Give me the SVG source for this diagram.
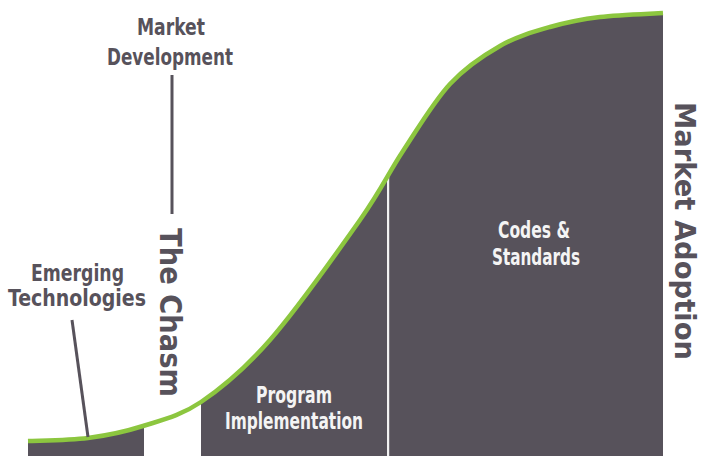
<svg xmlns="http://www.w3.org/2000/svg" width="702" height="456" viewBox="0 0 702 456">
  <style>
    .lbl { font-family: "Liberation Sans Narrow", "DejaVu Sans Condensed", "Liberation Sans", sans-serif; font-weight: bold; }
    .dark { fill: #57525b; }
    .light { fill: #f4f4f4; }
    .leader { stroke: #57525b; stroke-width: 3; fill: none; }
  </style>
  <defs>
    <path id="s-curve" d="M28,441 C38,440.5 68.8,440.5 88,438 C107.2,435.5 124.2,432 143,426 C161.8,420 179.8,416.3 201,402 C222.2,387.7 243.5,370.3 270,340 C296.5,309.7 337.8,251.5 360,220 C382.2,188.5 388,173.7 403,151 C418,128.3 433.8,101.5 450,84 C466.2,66.5 483.3,55.5 500,46 C516.7,36.5 533.3,31.8 550,27 C566.7,22.2 581.2,19.3 600,17 C618.8,14.7 652.5,13.7 663,13"/>
  </defs>

  <rect width="702" height="456" fill="#ffffff"/>

  <!-- area under the adoption curve, split into three stages -->
  <g id="adoption-area">
    <path d="M28,441 C38,440.5 68.8,440.5 88,438 C107.2,435.5 124.2,432 143,426 C161.8,420 179.8,416.3 201,402 C222.2,387.7 243.5,370.3 270,340 C296.5,309.7 337.8,251.5 360,220 C382.2,188.5 388,173.7 403,151 C418,128.3 433.8,101.5 450,84 C466.2,66.5 483.3,55.5 500,46 C516.7,36.5 533.3,31.8 550,27 C566.7,22.2 581.2,19.3 600,17 C618.8,14.7 652.5,13.7 663,13 L663,456 L28,456 Z" fill="#57525b"/>
    <!-- the chasm gap -->
    <rect x="144" y="380" width="57" height="76" fill="#ffffff"/>
    <!-- divider between program and codes stages -->
    <rect x="387" y="176" width="2.2" height="280" fill="#f2f2f2"/>
  </g>

  <!-- green adoption curve -->
  <g id="curve">
    <use href="#s-curve" fill="none" stroke="#8cc63f" stroke-width="4.5"/>
  </g>

  <!-- leader lines -->
  <g id="connectors">
    <line class="leader" x1="172" y1="75" x2="172" y2="214"/>
    <line class="leader" x1="72" y1="320" x2="88" y2="437"/>
  </g>

  <g id="market-development">
    <text class="lbl dark" x="137" y="35" font-size="23.5" textLength="68" lengthAdjust="spacingAndGlyphs">Market</text>
    <text class="lbl dark" x="107" y="65" font-size="23.5" textLength="126" lengthAdjust="spacingAndGlyphs">Development</text>
  </g>

  <g id="emerging-technologies">
    <text class="lbl dark" x="31" y="281" font-size="22.5" textLength="93" lengthAdjust="spacingAndGlyphs">Emerging</text>
    <text class="lbl dark" x="8" y="306" font-size="22.5" textLength="138" lengthAdjust="spacingAndGlyphs">Technologies</text>
  </g>

  <g id="the-chasm">
    <text class="lbl dark" transform="translate(160,228) rotate(90)" x="0" y="0" font-size="31" textLength="169" lengthAdjust="spacingAndGlyphs">The Chasm</text>
  </g>

  <g id="program-implementation">
    <text class="lbl light" x="256" y="403" font-size="22.5" textLength="76" lengthAdjust="spacingAndGlyphs">Program</text>
    <text class="lbl light" x="225" y="429" font-size="22.5" textLength="138" lengthAdjust="spacingAndGlyphs">Implementation</text>
  </g>

  <g id="codes-standards">
    <text class="lbl light" x="498" y="238" font-size="22.5" textLength="72" lengthAdjust="spacingAndGlyphs">Codes &amp;</text>
    <text class="lbl light" x="492" y="265" font-size="22.5" textLength="88" lengthAdjust="spacingAndGlyphs">Standards</text>
  </g>

  <g id="market-adoption">
    <text class="lbl dark" transform="translate(675,102) rotate(90)" x="0" y="0" font-size="29" textLength="258" lengthAdjust="spacingAndGlyphs">Market Adoption</text>
  </g>
</svg>
